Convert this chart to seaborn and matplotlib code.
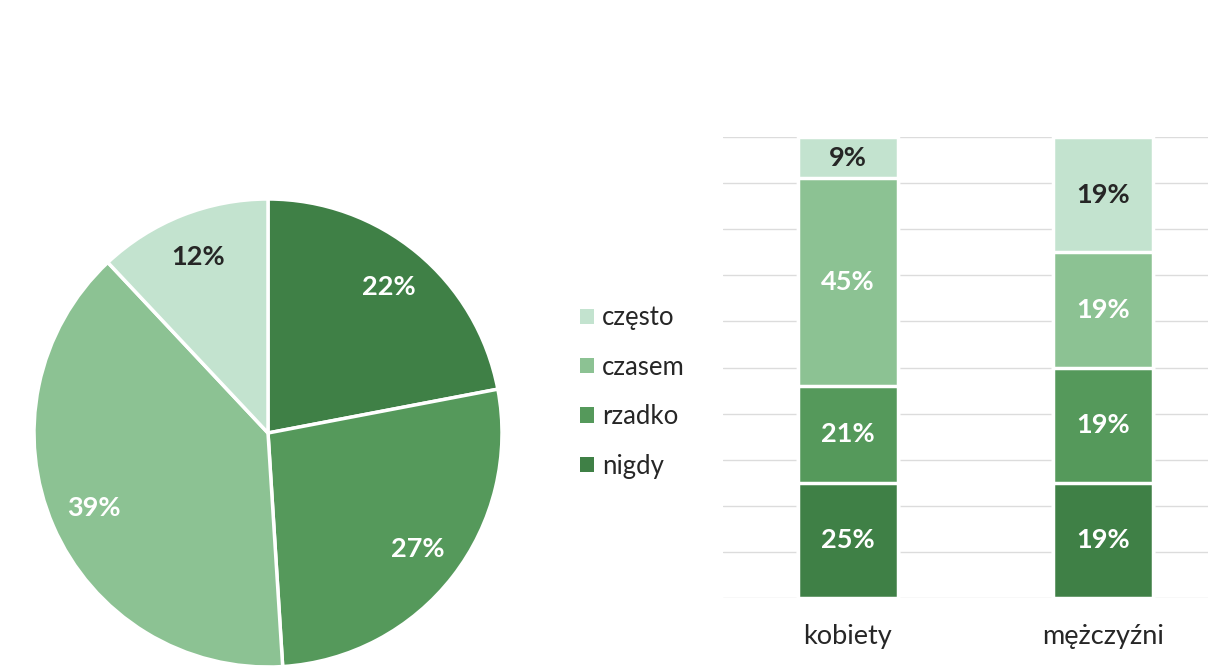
import matplotlib
matplotlib.use("Agg")
import matplotlib.pyplot as plt
from matplotlib.patches import Patch
import numpy as np
import pandas as pd
import seaborn as sns

# Answer categories (lightest to darkest)
categories = ["często", "czasem", "rzadko", "nigdy"]
colors = ["#c3e3cf", "#8cc293", "#55995b", "#3f8046"]

# Overall answers (%)
overall = [12, 39, 27, 22]

# Answers by gender (%)
groups = ["kobiety", "mężczyźni"]
kobiety = [9, 45, 21, 25]
mezczyzni = [19, 19, 19, 19]

sns.set_theme(style="white")
plt.rcParams["font.family"] = ["Lato", "DejaVu Sans"]

W, H = 1208, 671
fig = plt.figure(figsize=(W / 100, H / 100), dpi=100)
fig.patch.set_facecolor("white")

# ---- pie chart ----
cx, cy, r = 268, 433, 234
ax_pie = fig.add_axes([(cx - r) / W, (H - cy - r) / H, 2 * r / W, 2 * r / H])
pie_vals = overall[::-1]      # nigdy, rzadko, czasem, często (clockwise from top)
pie_cols = colors[::-1]
wedges, texts, autotexts = ax_pie.pie(
    pie_vals, colors=pie_cols, startangle=90, counterclock=False,
    autopct=lambda p: f"{p:.0f}%", pctdistance=0.81,
    wedgeprops=dict(edgecolor="white", linewidth=2.5),
    textprops=dict(fontsize=19.5, fontweight="bold", color="white"),
)
autotexts[-1].set_color("#262626")
ax_pie.set_xlim(-1, 1)
ax_pie.set_ylim(-1, 1)
ax_pie.set_aspect("equal")
ax_pie.axis("off")

# ---- 100% stacked bar chart ----
y0, y1 = 598, 137
ax_bar = fig.add_axes([723 / W, (H - y0) / H, 510 / W, (y0 - y1) / H])

df = pd.DataFrame({"grupa": groups,
                   **{c: [k, m] for c, k, m in zip(categories, kobiety, mezczyzni)}})
shares = df[categories].div(df[categories].sum(axis=1), axis=0)
stack_order = categories[::-1]    # bottom to top: nigdy ... często
cum = shares[stack_order].cumsum(axis=1)

# draw cumulative heights from the tallest down so each segment shows
for cat in categories:
    col = colors[categories.index(cat)]
    sns.barplot(x=df["grupa"], y=cum[cat], color=col, width=0.39,
                edgecolor="white", linewidth=2.5, saturation=1, ax=ax_bar,
                zorder=3)

for i in range(len(groups)):
    bottom = 0.0
    for cat in stack_order:
        h = shares.loc[i, cat]
        txt_col = "#262626" if cat == "często" else "white"
        ax_bar.text(i, bottom + h / 2, f"{df.loc[i, cat]}%", ha="center",
                    va="center", fontsize=19.5, fontweight="bold",
                    color=txt_col, zorder=5)
        bottom += h

ax_bar.set_xlim(-0.49, 1.51)
ax_bar.set_ylim(0, 1)
ax_bar.set_yticks(np.linspace(0, 1, 11))
ax_bar.yaxis.grid(True, color="#dcdcdc", linewidth=1)
ax_bar.set_axisbelow(True)
ax_bar.tick_params(axis="y", left=False, labelleft=False)
ax_bar.tick_params(axis="x", bottom=False, labelsize=19.5, labelcolor="#262626", pad=13)
ax_bar.set_xlabel("")
ax_bar.set_ylabel("")
for s in ax_bar.spines.values():
    s.set_visible(False)

# ---- legend ----
handles = [Patch(facecolor=c, edgecolor="none") for c in colors]
fig.legend(handles, categories, loc="center left",
           bbox_to_anchor=(557 / W, 1 - 392 / H), frameon=False,
           fontsize=18.5, labelspacing=0.95, handlelength=0.55, handleheight=0.55,
           handletextpad=0.3, labelcolor="#262626")

fig.savefig("out.png", dpi=100, facecolor="white")
